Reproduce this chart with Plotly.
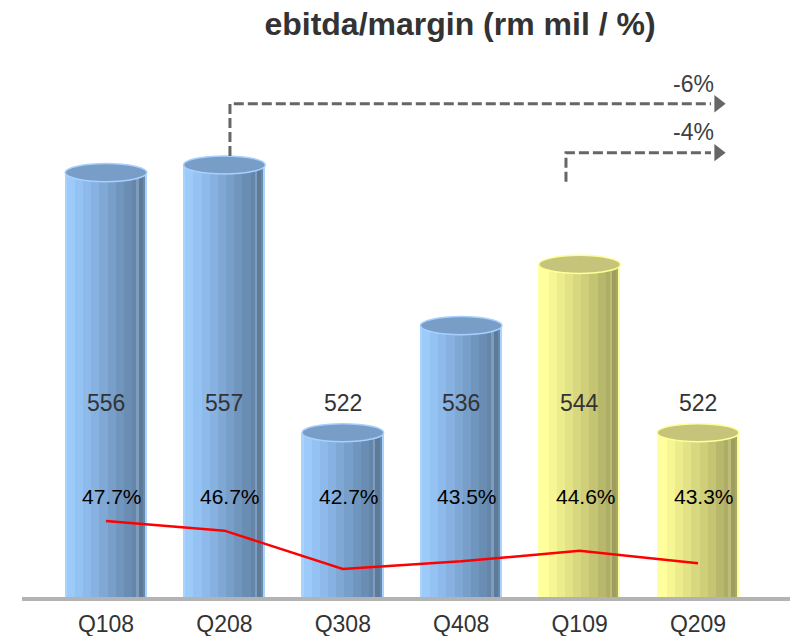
import plotly.graph_objects as go

# ---------------- data ----------------
quarters = ["Q108", "Q208", "Q308", "Q408", "Q109", "Q209"]
ebitda = [556, 557, 522, 536, 544, 522]          # rm mil
margin = [47.7, 46.7, 42.7, 43.5, 44.6, 43.3]     # %
growth_labels = ["-6%", "-4%"]
title_text = "ebitda/margin (rm mil / %)"

# ---------------- styling ----------------
FONT = "Liberation Sans, Arial, sans-serif"
W, H = 790, 636
M_T, M_B = 60, 35
Y_MIN, PX_PER_UNIT = 500, 7.65
plot_h = H - M_T - M_B
Y_MAX = Y_MIN + plot_h / PX_PER_UNIT
X_MIN, X_MAX = -106 / 118.4, 5 + 92 / 118.4
Y2_MIN, PX_PER_PCT = 39.37, 9.6
Y2_MAX = Y2_MIN + plot_h / PX_PER_PCT

BAR_W = 0.69
is_2009 = [q.endswith("09") for q in quarters]

# stripes: (start frac, end frac, blue colour, yellow colour)
stripes = [
    (0.00, 0.02, "#A9D3FF", "#FFFFA8"),
    (0.02, 0.12, "#9CCBFA", "#FFFF9C"),
    (0.12, 0.22, "#94C2F2", "#F6F694"),
    (0.22, 0.32, "#8DBAEA", "#ECEC8C"),
    (0.32, 0.42, "#86B1E0", "#E2E286"),
    (0.42, 0.52, "#7FA8D5", "#D8D880"),
    (0.52, 0.62, "#789FCA", "#CFCF7A"),
    (0.62, 0.72, "#7196BE", "#C4C473"),
    (0.72, 0.82, "#6A8DB3", "#B8B86C"),
    (0.82, 0.87, "#6686A9", "#ADAD66"),
    (0.87, 0.90, "#7D9CBE", "#BDBD78"),
    (0.90, 0.95, "#5D7A99", "#9E9E5E"),
    (0.95, 0.98, "#6A88A8", "#A8A866"),
    (0.98, 1.00, "#A9D3FF", "#FFFF99"),
]

fig = go.Figure()

for s0, s1, cb, cy in stripes:
    fig.add_trace(go.Bar(
        x=list(range(len(quarters))), y=ebitda,
        offset=-BAR_W / 2 + s0 * BAR_W, width=(s1 - s0) * BAR_W,
        marker=dict(color=[cy if y9 else cb for y9 in is_2009], line=dict(width=0)),
        hoverinfo="skip", showlegend=False,
    ))

# margin line on secondary axis
fig.add_trace(go.Scatter(
    x=list(range(len(quarters))), y=margin, yaxis="y2", mode="lines",
    line=dict(color="#FF0000", width=2.5), hoverinfo="skip", showlegend=False,
))

# arrow heads
arrow_y = [565.0, 558.6]
fig.add_trace(go.Scatter(
    x=[5.17, 5.17], y=arrow_y, mode="markers",
    marker=dict(symbol="triangle-right", size=15, color="#666666"),
    cliponaxis=False, hoverinfo="skip", showlegend=False,
))

shapes = []
# cylinder tops
EH = 1.18
for i, v in enumerate(ebitda):
    fill = "#C6C47A" if is_2009[i] else "#789DC6"
    edge = "#FFFF99" if is_2009[i] else "#A8D0FF"
    shapes.append(dict(type="circle", xref="x", yref="y",
                       x0=i - BAR_W / 2, x1=i + BAR_W / 2, y0=v - EH, y1=v + EH,
                       fillcolor=fill, line=dict(color=edge, width=1.5), layer="above"))
# baseline
shapes.append(dict(type="line", xref="paper", yref="y", x0=22 / W, x1=1, y0=Y_MIN, y1=Y_MIN,
                   line=dict(color="#B3B3B3", width=8), layer="above"))
# dashed arrows
dash = dict(color="#666666", width=3, dash="10px,4px")
shapes.append(dict(type="path", xref="x", yref="y",
                   path=f"M 1.047,{ebitda[1] + EH} L 1.047,{arrow_y[0]} L 5.11,{arrow_y[0]}",
                   line=dash, layer="above"))
shapes.append(dict(type="path", xref="x", yref="y",
                   path=f"M 3.885,554.8 L 3.885,{arrow_y[1]} L 5.11,{arrow_y[1]}",
                   line=dash, layer="above"))

annotations = []
for i, v in enumerate(ebitda):
    annotations.append(dict(x=i, y=(601 - 403) / plot_h, xref="x", yref="paper",
                            text=str(v), showarrow=False,
                            font=dict(family=FONT, size=23, color="#333333")))
for i, m in enumerate(margin):
    annotations.append(dict(x=i + 0.05, y=(601 - 510) / plot_h, xref="x", yref="paper",
                            text=f"{m:.1f}%", showarrow=False,
                            font=dict(family=FONT, size=21, color="#000000")))
for lab, yy in zip(growth_labels, [567.6, 561.3]):
    annotations.append(dict(x=4.958, y=yy, xref="x", yref="y", text=lab, showarrow=False,
                            font=dict(family=FONT, size=23, color="#404040")))

fig.update_layout(
    width=W, height=H,
    margin=dict(l=0, r=0, t=M_T, b=M_B, autoexpand=False),
    paper_bgcolor="white", plot_bgcolor="white",
    barmode="overlay", bargap=0,
    showlegend=False,
    title=dict(text=title_text, x=460 / W, xanchor="center", y=1 - 24 / H, yanchor="middle",
               font=dict(family=FONT, size=32, color="#333333", weight="bold"),
               automargin=False),
    xaxis=dict(range=[X_MIN, X_MAX], tickvals=list(range(len(quarters))), ticktext=quarters,
               showgrid=False, zeroline=False, showline=False, automargin=False,
               ticks="outside", ticklen=2, tickcolor="rgba(0,0,0,0)",
               tickfont=dict(family=FONT, size=23, color="#333333")),
    yaxis=dict(range=[Y_MIN, Y_MAX], showgrid=False, zeroline=False, showticklabels=False,
               showline=False, automargin=False),
    yaxis2=dict(range=[Y2_MIN, Y2_MAX], overlaying="y", showgrid=False, zeroline=False,
                showticklabels=False, showline=False, automargin=False),
    shapes=shapes, annotations=annotations,
)

fig.write_html("out.html")
